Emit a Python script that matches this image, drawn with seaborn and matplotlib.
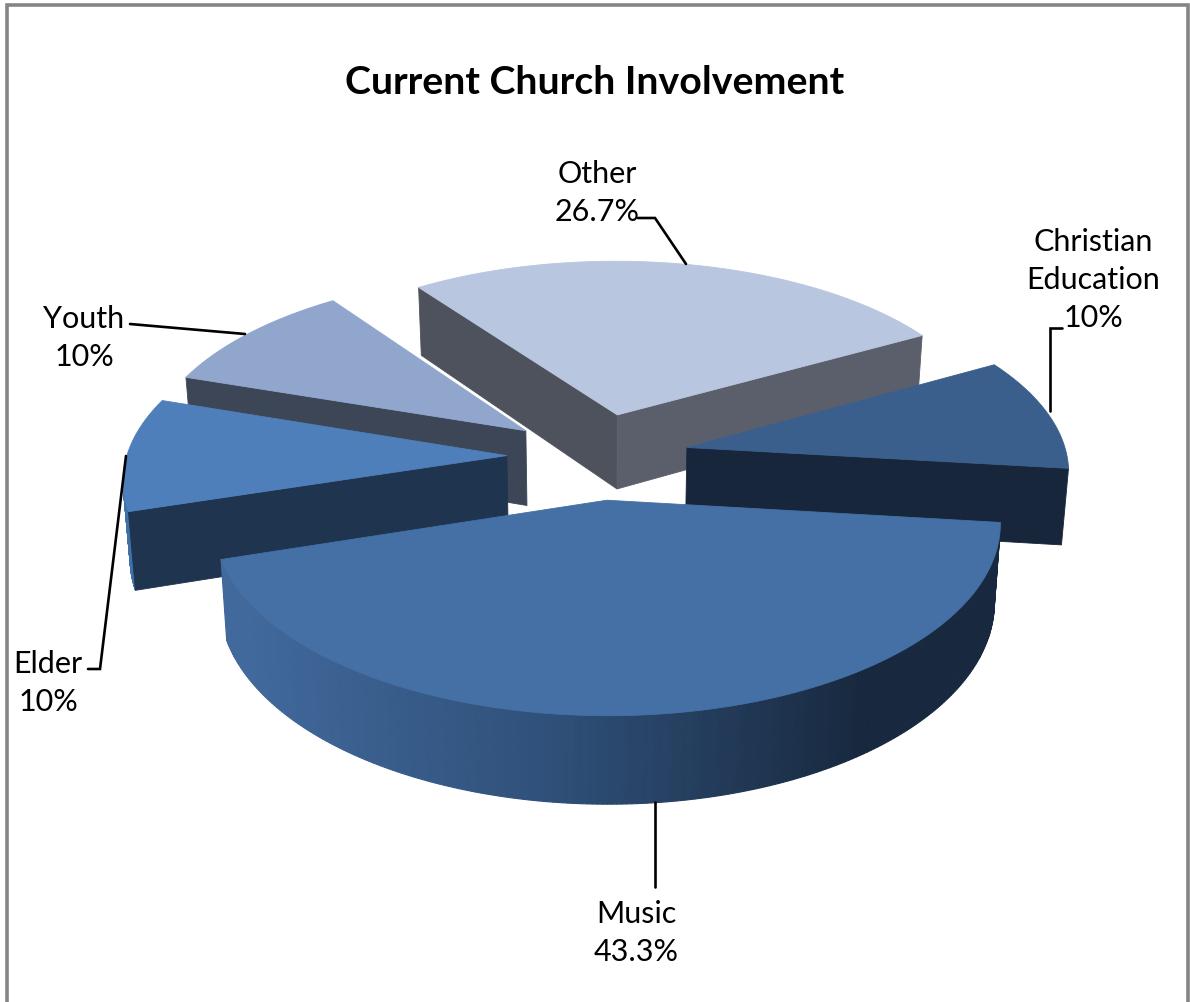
import numpy as np
import matplotlib
matplotlib.use('Agg')
import matplotlib.pyplot as plt
import seaborn as sns

# Pie values, listed clockwise starting from the back slice
categories = ['Other', 'Christian\nEducation', 'Music', 'Elder', 'Youth']
values = [26.7, 10, 43.3, 10, 10]
value_labels = ['26.7%', '10%', '43.3%', '10%', '10%']

top_colors = ['#b9c6df', '#3a5f8c', '#4470a5', '#4f7fba', '#90a6cd']
front_colors = ['#5b5f6b', '#17263a', '#1a2c45', '#1f344f', '#3c4657']
back_colors = ['#4d525c', '#17263a', '#1a2c45', '#1f344f', '#3c4657']
rim_colors = ['#5b5f6b', '#1e3857', '#3f6698', '#3f70a8', '#3c4657']

title = 'Current Church Involvement'

sns.set_theme(style='white')
plt.rcParams['font.family'] = ['Lato', 'DejaVu Sans']

# Projection of the pie plane to image pixels
cx, cy = 598, 457
scale_x, scale_y = 380, 180
persp = 0.114
explode = 0.24
depth = 76
start_angle = 125.5


def project(u, v):
    w = 1 / (1 + persp * v)
    return cx + scale_x * u * w, cy - scale_y * v * w, w


def top_pt(u, v):
    x, y, w = project(u, v)
    return np.array([x, y])


def low_pt(u, v):
    x, y, w = project(u, v)
    return np.array([cx + (x - cx) * 0.985, y + depth * w])


def area(pts):
    pts = np.array(pts)
    a = pts[:, 0]
    b = pts[:, 1]
    return 0.5 * np.sum(a * np.roll(b, -1) - np.roll(a, -1) * b)


fig = plt.figure(figsize=(11.9, 10.03), dpi=100)
ax = fig.add_axes([0, 0, 1, 1])
ax.set_xlim(0, 1190)
ax.set_ylim(1003, 0)
ax.axis('off')

# Chart frame: open at the bottom, the picture is cut there
ax.plot([7, 7, 1188, 1188], [1003, 6, 6, 1003], color='#858585', lw=2.6, solid_joinstyle='miter')

# Work out the start and end angle of each slice
spans = np.array(values) / sum(values) * 360
ends = start_angle - np.cumsum(spans)
starts = ends + spans
slices = [dict(i=i, a0=starts[i], a1=ends[i]) for i in range(len(values))]

shades = sns.blend_palette(['#41699c', '#2f5079', '#18293f'], 101)

# Painter order: far slices first, Music last
for s in [slices[0], slices[4], slices[1], slices[3], slices[2]]:
    i = s['i']
    mid = np.radians((s['a0'] + s['a1']) / 2)
    ou, ov = explode * np.cos(mid), explode * np.sin(mid)
    ang = np.radians(np.linspace(s['a0'], s['a1'], 240))
    us = ou + np.cos(ang)
    vs = ov + np.sin(ang)
    tops = [top_pt(u, v) for u, v in zip(us, vs)]
    lows = [low_pt(u, v) for u, v in zip(us, vs)]
    apex_t = top_pt(ou, ov)
    apex_l = low_pt(ou, ov)

    # Rim segments, Music gets the shaded gradient
    for k in range(len(tops) - 1):
        quad = [tops[k], tops[k + 1], lows[k + 1], lows[k]]
        if area(quad) > 0:
            continue
        col = rim_colors[i]
        if categories[i] == 'Music':
            t = np.clip((tops[k][0] - 240) / 620, 0, 1)
            col = shades[int(t * 100)]
        ax.fill(*zip(*quad), color=col, lw=0.8)

    # Cut faces running from the apex to each slice edge
    q0 = [apex_t, tops[0], lows[0], apex_l]
    q1 = [tops[-1], apex_t, apex_l, lows[-1]]
    for quad, col in [(q0, back_colors[i]), (q1, front_colors[i])]:
        if area(quad) < 0:
            ax.fill(*zip(*quad), color=col, lw=0.6)

    # Top surface goes on last
    poly = [apex_t] + tops
    ax.fill(*zip(*poly), color=top_colors[i], lw=0.6)

# Leader lines
leaders = [
    ([638, 655, 686], [219, 219, 265]),
    ([1062, 1050, 1050], [329, 329, 412]),
    ([655, 655], [803, 888]),
    ([88, 100, 126], [670, 670, 457]),
    ([130, 245], [325, 335]),
]
for lx, ly in leaders:
    ax.plot(lx, ly, color='black', lw=1.9, zorder=5, solid_joinstyle='miter')

# Data labels
fs = 22
label_pos = [(597, 174), (1093, 242), (636, 914), (48, 664), (84, 319)]
line_gap = 38
for i, (x, y) in enumerate(label_pos):
    lines = categories[i].split('\n') + [value_labels[i]]
    for n, line in enumerate(lines):
        ax.text(x, y + n * line_gap, line, fontsize=fs, color='black', ha='center', va='center', zorder=6)

ax.text(595, 82, title, fontsize=28.3, fontweight='bold', color='black', ha='center', va='center')

fig.savefig('out.png', dpi=100)
